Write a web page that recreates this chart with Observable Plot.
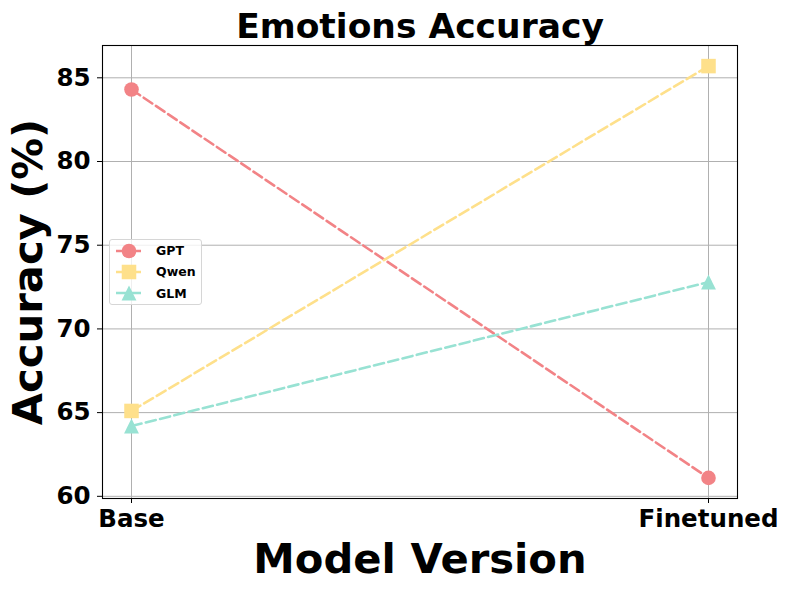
<!DOCTYPE html>
<html>
<head>
<meta charset="utf-8">
<script src="https://cdn.jsdelivr.net/npm/d3@7"></script>
<script src="https://cdn.jsdelivr.net/npm/@observablehq/plot@0.6"></script>
<style>
  html, body { margin: 0; padding: 0; background: #fff; }
  #wrap { position: relative; width: 789px; height: 590px; font-family: "DejaVu Sans", sans-serif; }
  #legend { position: absolute; left: 109px; top: 239px; width: 93px; height: 66px;
    border: 1px solid #d6d6d6; border-radius: 3px; background: rgba(255,255,255,0.8); box-sizing: border-box; }
  .row { position: absolute; left: 0; height: 20px; display: flex; align-items: center; }
  .row span { font-weight: bold; font-size: 12.5px; margin-left: 8px; color: #000; }
</style>
</head>
<body>
<div id="wrap"><div id="legend"></div></div>
<script>
const categories = ["Base", "Finetuned"];
const models = ["GPT", "Qwen", "GLM"];
const gptValues = [84.3, 61.1];
const qwenValues = [65.1, 85.7];
const glmValues = [64.2, 72.8];
const yTicks = [60, 65, 70, 75, 80, 85];
const colors = ["#F28386", "#FEE08B", "#98E2D3"];

const seriesValues = [gptValues, qwenValues, glmValues];
const data = [];
models.forEach((m, i) => categories.forEach((c, j) => data.push({model: m, version: c, value: seriesValues[i][j]})));

const squareSym = { draw(ctx, size) { const h = Math.sqrt(size) / 2; ctx.moveTo(-h, -h); ctx.lineTo(h, -h); ctx.lineTo(h, h); ctx.lineTo(-h, h); ctx.closePath(); } };
const triSym = { draw(ctx, size) { const h = Math.sqrt(size) / 2; ctx.moveTo(0, -h); ctx.lineTo(h, h); ctx.lineTo(-h, h); ctx.closePath(); } };
const symbols = ["circle", squareSym, triSym];
const radii = [7.3, 8.2, 8.4];

const marks = [
  Plot.gridX(categories, {stroke: "#b0b0b0", strokeOpacity: 1, strokeWidth: 1}),
  Plot.gridY(yTicks, {stroke: "#b0b0b0", strokeOpacity: 1, strokeWidth: 1}),
];
models.forEach((m, i) => {
  const rows = data.filter(d => d.model === m);
  marks.push(Plot.line(rows, {x: "version", y: "value", stroke: colors[i], strokeWidth: 2.6, strokeDasharray: "10.3,4.4"}));
  marks.push(Plot.dot(rows, {x: "version", y: "value", fill: colors[i], stroke: "none", symbol: symbols[i], r: radii[i]}));
});
marks.push(
  Plot.frame({stroke: "#000", strokeWidth: 1.1}),
  Plot.axisX(categories, {tickSize: 5, tickPadding: 6, fontSize: 24.5, fontWeight: "bold", label: null}),
  Plot.axisY(yTicks, {tickSize: 5, tickPadding: 7, fontSize: 24.5, fontWeight: "bold", label: null}),
  Plot.text(["Emotions Accuracy"], {frameAnchor: "top", lineAnchor: "bottom", dy: -8, fontSize: 34.5, fontWeight: "bold", fill: "#000"}),
  Plot.text(["Model Version"], {frameAnchor: "bottom", lineAnchor: "bottom", dy: 74, fontSize: 41.7, fontWeight: "bold", fill: "#000"}),
  Plot.text(["Accuracy (%)"], {frameAnchor: "left", textAnchor: "middle", lineAnchor: "middle", rotate: -90, dx: -74, fontSize: 41.7, fontWeight: "bold", fill: "#000"})
);

const chart = Plot.plot({
  width: 789, height: 590,
  marginLeft: 102, marginRight: 52, marginTop: 45, marginBottom: 92,
  style: {fontFamily: "DejaVu Sans", fontWeight: "bold", background: "#fff", color: "#000", overflow: "visible"},
  x: {type: "point", domain: categories, padding: 0.05},
  y: {domain: [59.87, 86.93]},
  marks
});
document.getElementById("wrap").prepend(chart);

// legend
const legend = document.getElementById("legend");
models.forEach((m, i) => {
  const row = document.createElement("div");
  row.className = "row";
  row.style.top = (i * 21.3 + 0.5) + "px";
  const svg = d3.create("svg").attr("width", 38).attr("height", 20);
  svg.append("line").attr("x1", 6).attr("x2", 32).attr("y1", 10).attr("y2", 10)
    .attr("stroke", colors[i]).attr("stroke-width", 2.6).attr("stroke-dasharray", "10.3,4.4");
  const s = d3.symbol().type(typeof symbols[i] === "string" ? d3.symbolCircle : symbols[i]).size(Math.PI * radii[i] * radii[i]);
  svg.append("path").attr("d", s()).attr("transform", "translate(19,10)").attr("fill", colors[i]);
  row.appendChild(svg.node());
  const t = document.createElement("span");
  t.textContent = m;
  row.appendChild(t);
  legend.appendChild(row);
});
</script>
</body>
</html>
